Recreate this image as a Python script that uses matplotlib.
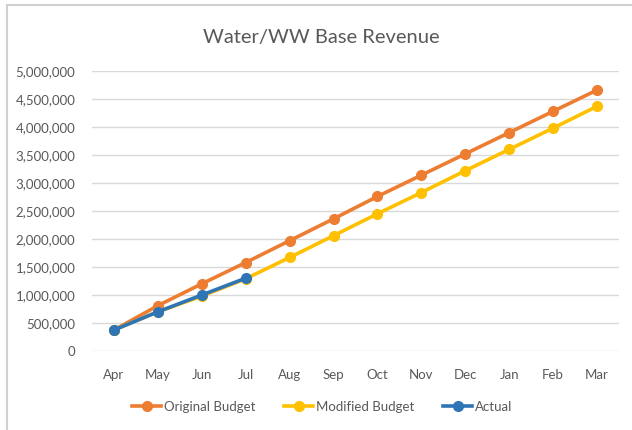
import matplotlib.pyplot as plt
from matplotlib.ticker import FuncFormatter
from matplotlib.patches import Rectangle

months = ['Apr', 'May', 'Jun', 'Jul', 'Aug', 'Sep', 'Oct', 'Nov', 'Dec', 'Jan', 'Feb', 'Mar']
original = [375000, 810000, 1200000, 1580000, 1970000, 2360000, 2760000, 3140000,
            3520000, 3900000, 4280000, 4660000]
modified = [375000, 700000, 980000, 1290000, 1670000, 2060000, 2450000, 2830000,
            3220000, 3600000, 3980000, 4370000]
actual = [375000, 700000, 1000000, 1300000]

plt.rcParams['font.family'] = ['Lato', 'DejaVu Sans']

fig = plt.figure(figsize=(6.32, 4.30), dpi=100)
ax = fig.add_axes([92 / 632, 1 - 351 / 430, (619 - 92) / 632, (351 - 71) / 430])

# chart frame (light grey edge on top and left)
fig.patches.append(Rectangle((7 / 632, -0.05), 1.2, 1 - 5 / 430 + 0.05, transform=fig.transFigure,
                             fill=False, edgecolor='#D0D0D0', linewidth=1.5))

x = list(range(len(months)))
ax.plot(x, original, color='#ED7D31', lw=2.6, marker='o', ms=7, label='Original Budget', zorder=3)
ax.plot(x, modified, color='#FFC000', lw=2.6, marker='o', ms=7, label='Modified Budget', zorder=4)
ax.plot(x[:len(actual)], actual, color='#2E75B6', lw=2.6, marker='o', ms=7, label='Actual', zorder=5)

ax.set_xlim(-0.5, 11.5)
ax.set_ylim(0, 5000000)
ax.set_yticks(range(0, 5000001, 500000))
ax.yaxis.set_major_formatter(FuncFormatter(lambda v, p: f'{int(v):,}'))
ax.set_xticks(x)
ax.set_xticklabels(months)
ax.grid(axis='y', color='#D9D9D9', lw=1)
ax.set_axisbelow(True)
for s in ax.spines.values():
    s.set_visible(False)
ax.tick_params(length=0, labelsize=9.5, colors='#595959')
ax.tick_params(axis='x', pad=13)
ax.tick_params(axis='y', pad=12)

fig.text(0.508, 1 - 37 / 430, 'Water/WW Base Revenue', ha='center', va='center',
         fontsize=14.5, color='#595959')

fig.legend(loc='center', bbox_to_anchor=(0.51, 1 - 407 / 430), ncol=3, frameon=False,
           fontsize=9.5, labelcolor='#595959', handlelength=2.2, handletextpad=0.2,
           columnspacing=2.2)

fig.savefig('out.png', dpi=100)
